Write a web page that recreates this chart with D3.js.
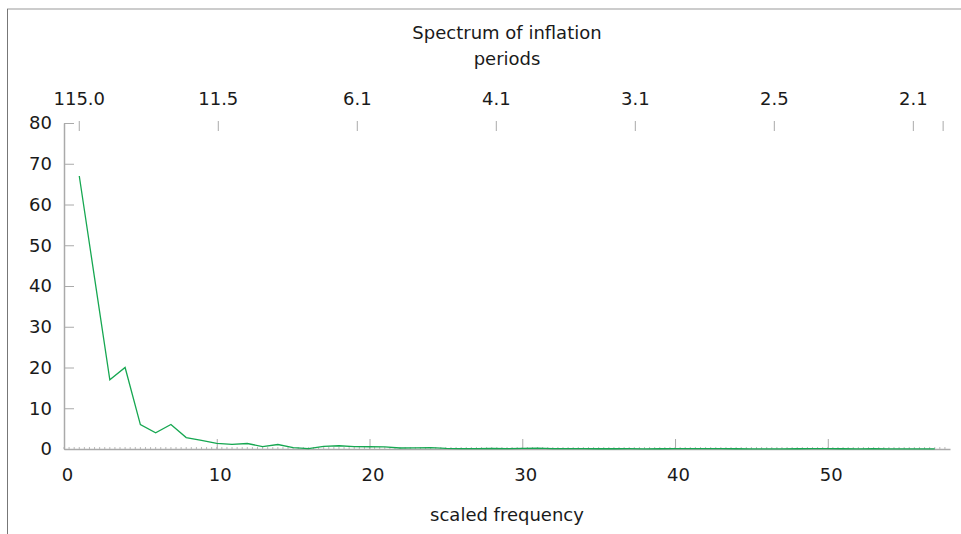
<!DOCTYPE html>
<html lang="en">
<head>
    <meta charset="UTF-8">
    <script src="https://d3js.org/d3.v7.min.js"></script>
    <title>Spectrum of inflation</title>
    <style>
        body { margin: 0; background: #fff; }
        text { font-family: 'DejaVu Sans', sans-serif; font-size: 18px; fill: #1a1a1a; }
        .axis path, .axis line { stroke: #aaa; }
    </style>
</head>
<body>
<svg height="534" width="961"></svg>
<script>
    const width = 961, height = 534;

    // scaled frequency 1..57 and spectral density
    const freq = d3.range(1, 58);
    const density = [67, 42, 17, 20, 6, 4, 6, 2.8, 2.1, 1.4,
                     1.15, 1.35, 0.6, 1.1, 0.35, 0.1, 0.65, 0.8, 0.6, 0.55,
                     0.5, 0.25, 0.3, 0.35, 0.15, 0.1, 0.1, 0.15, 0.1, 0.15,
                     0.2, 0.1, 0.08, 0.08, 0.06, 0.06, 0.07, 0.05, 0.06, 0.07,
                     0.08, 0.08, 0.07, 0.06, 0.05, 0.04, 0.05, 0.06, 0.08, 0.07,
                     0.06, 0.05, 0.06, 0.05, 0.04, 0.04, 0.03];

    // top axis: periods, placed at these scaled frequencies
    const periodPos = [1, 10.1, 19.2, 28.3, 37.4, 46.5, 55.6];
    const periodLabels = ["115.0", "11.5", "6.1", "4.1", "3.1", "2.5", "2.1"];
    const yTicks = [0, 10, 20, 30, 40, 50, 60, 70, 80];
    const xTicks = [0, 10, 20, 30, 40, 50];

    const svg = d3.select("svg");
    const x = d3.scaleLinear().domain([0, 58]).range([64, 950]);
    const y = d3.scaleLinear().domain([0, 80]).range([449, 123]);

    // outer frame (top and left edges)
    svg.append("line").attr("x1", 7).attr("x2", width).attr("y1", 9).attr("y2", 9)
        .attr("stroke", "#999");
    svg.append("line").attr("x1", 7.5).attr("x2", 7.5).attr("y1", 9).attr("y2", height)
        .attr("stroke", "#777");

    // minor ticks on bottom axis
    svg.append("g").selectAll("line").data(d3.range(0, 58, 1 / 3)).join("line")
        .attr("x1", d => x(d)).attr("x2", d => x(d))
        .attr("y1", 449).attr("y2", 447)
        .attr("stroke", "#bbb");

    const xAxis = svg.append("g").attr("class", "axis")
        .attr("transform", "translate(0,449)")
        .call(d3.axisTop(x).tickValues(xTicks).tickSize(10).tickSizeOuter(0).tickFormat(""));
    xAxis.select(".domain").attr("stroke-width", 1.5);
    svg.append("g").selectAll("text").data(xTicks).join("text")
        .attr("x", d => x(d) + 3.5).attr("y", 481)
        .attr("text-anchor", "middle").text(d => d);

    const yAxis = svg.append("g").attr("class", "axis")
        .attr("transform", "translate(64,0)")
        .call(d3.axisRight(y).tickValues(yTicks).tickSize(10).tickSizeOuter(0).tickFormat(""));
    yAxis.select(".domain").attr("stroke-width", 1.5);
    svg.append("g").selectAll("text").data(yTicks).join("text")
        .attr("x", 52).attr("y", d => y(d)).attr("dy", "0.36em")
        .attr("text-anchor", "end").text(d => d);

    // top period axis: ticks only, pointing down
    svg.append("g").selectAll("line").data(periodPos.concat([57.55])).join("line")
        .attr("x1", d => x(d)).attr("x2", d => x(d))
        .attr("y1", 121).attr("y2", 131)
        .attr("stroke", "#aaa");
    svg.append("g").selectAll("text").data(periodPos).join("text")
        .attr("x", d => x(d)).attr("y", 104.5)
        .attr("text-anchor", "middle").text((d, i) => periodLabels[i]);

    svg.append("text").attr("x", 507).attr("y", 39).attr("text-anchor", "middle")
        .text("Spectrum of inflation");
    svg.append("text").attr("x", 507).attr("y", 65).attr("text-anchor", "middle")
        .text("periods");
    svg.append("text").attr("x", 507).attr("y", 521).attr("text-anchor", "middle")
        .text("scaled frequency");

    const line = d3.line().x((d, i) => x(freq[i])).y(d => y(d));
    svg.append("path").datum(density)
        .attr("d", line)
        .attr("fill", "none")
        .attr("stroke", "#16a751")
        .attr("stroke-width", 1.3);
</script>
</body>
</html>
